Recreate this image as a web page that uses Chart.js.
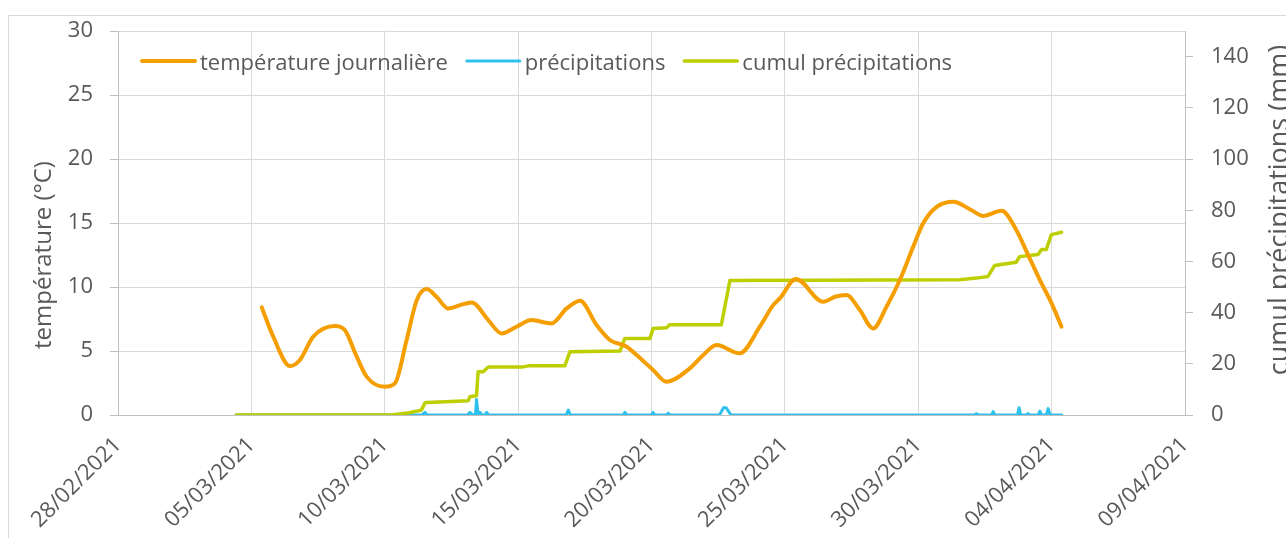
<!DOCTYPE html>
<html>
<head>
<meta charset="utf-8">
<script src="https://cdn.jsdelivr.net/npm/chart.js@4.4.1/dist/chart.umd.min.js"></script>
<style>
    html, body { margin: 0; padding: 0; background: #fff; overflow: hidden; }
    #frame { position: absolute; left: 8px; top: 15px; width: 1400px; height: 700px; border: 1px solid #d9d9d9; }
    #chart { position: absolute; left: 0; top: 0; }
</style>
</head>
<body>
<div id="frame"></div>
<canvas id="chart" width="1286" height="538"></canvas>
<script>
// =========================
// DONNÉES (x = jours depuis le 28/02/2021)
// =========================
const dateLabels = ["28/02/2021", "05/03/2021", "10/03/2021", "15/03/2021", "20/03/2021",
    "25/03/2021", "30/03/2021", "04/04/2021", "09/04/2021"];

const tempDays = [5.39, 5.82, 6.45, 6.82, 7.32, 8.13, 8.50, 8.95, 9.32, 10.00, 10.38, 10.82,
    11.20, 11.57, 11.94, 12.38, 12.82, 13.26, 13.88, 14.38, 14.94, 15.50, 16.25, 16.82,
    17.32, 17.94, 18.44, 19.07, 19.44, 20.06, 20.56, 21.44, 21.94, 22.44, 23.31, 24.06,
    24.56, 24.81, 25.41, 26.44, 26.88, 27.31, 27.81, 28.31, 28.81, 29.31, 29.81, 30.18,
    30.69, 31.31, 32.00, 32.43, 33.12, 33.68, 34.12, 34.56, 35.00, 35.37];
const tempValues = [8.41, 6.12, 3.83, 4.30, 6.12, 6.95, 6.64, 4.56, 3.00, 2.21, 2.47, 5.86,
    8.98, 9.84, 9.24, 8.33, 8.59, 8.80, 7.42, 6.38, 6.90, 7.42, 7.16, 8.33,
    8.93, 7.03, 5.86, 5.34, 4.69, 3.52, 2.60, 3.65, 4.69, 5.47, 4.82, 6.90,
    8.59, 9.11, 10.63, 8.85, 9.24, 9.38, 8.20, 6.77, 8.46, 10.55, 13.15, 14.97,
    16.27, 16.67, 16.00, 15.55, 15.96, 14.45, 12.50, 10.55, 8.72, 6.90];

const rainDays = [4.43, 11.40, 11.51, 11.60, 13.10, 13.19, 13.30, 13.40, 13.44, 13.50, 13.57,
    13.65, 13.75, 13.82, 13.90, 16.80, 16.88, 16.96, 18.95, 19.00, 19.08, 20.00, 20.06,
    20.12, 20.58, 20.63, 20.70, 22.55, 22.70, 22.80, 22.98, 32.10, 32.18, 32.26, 32.75,
    32.81, 32.87, 33.72, 33.78, 33.84, 34.06, 34.12, 34.18, 34.50, 34.56, 34.62, 34.80,
    34.87, 34.94, 35.38];
const rainValues = [0, 0, 1.0, 0, 0, 1.0, 0, 0, 6.1, 0, 1.0,
    0, 0, 1.0, 0, 0, 1.9, 0, 0, 1.0, 0, 0, 1.0,
    0, 0, 0.7, 0, 0, 2.8, 2.8, 0, 0, 0.5, 0, 0,
    1.3, 0, 0, 2.8, 0, 0, 0.6, 0, 0, 1.5, 0, 0,
    2.5, 0, 0];

const cumulDays = [4.43, 10.00, 10.31, 10.93, 11.37, 11.51, 11.60, 13.13, 13.19, 13.44, 13.50,
    13.69, 13.88, 15.19, 15.38, 16.75, 16.94, 18.82, 19.00, 19.94, 20.06, 20.56, 20.69,
    22.62, 22.94, 31.56, 32.18, 32.61, 32.86, 33.67, 33.80, 34.49, 34.62, 34.80, 34.99, 35.37];
const cumulValues = [0, 0, 0.1, 0.9, 1.9, 4.8, 4.9, 5.6, 7.1, 7.5, 16.9,
    16.9, 18.8, 18.8, 19.2, 19.2, 24.7, 25.0, 29.9, 29.9, 33.8, 34.1, 35.3,
    35.3, 52.6, 52.9, 53.5, 54.1, 58.4, 59.7, 61.9, 62.7, 64.7, 64.7, 70.5, 71.4];

const leftTitle = "température (°C)";
const rightTitle = "cumul précipitations (mm)";

// =========================
// STYLE
// =========================
const textColor = "#595959";
const gridColor = "#d9d9d9";
const axisColor = "#bfbfbf";
const fontFamily = "'Open Sans', sans-serif";
const fontSize = 22;

const toPoints = (xs, ys) => xs.map((x, i) => ({ x, y: ys[i] }));

// légende dans la zone du graphique + titres des axes
const legendOrder = [0, 2, 1];

function drawVerticalText(ctx, text, x, y, size) {
    ctx.save();
    ctx.font = size + "px " + fontFamily;
    ctx.translate(x, y);
    ctx.rotate(-Math.PI / 2);
    ctx.textAlign = "center";
    ctx.textBaseline = "alphabetic";
    ctx.fillText(text, 0, 0);
    ctx.restore();
}

const overlayPlugin = {
    id: "overlay",
    afterDraw(chart) {
        const ctx = chart.ctx;
        ctx.save();
        ctx.font = fontSize + "px " + fontFamily;
        ctx.textBaseline = "alphabetic";
        ctx.lineCap = "round";
        ctx.fillStyle = textColor;

        let x = 142;
        const y = 61;
        legendOrder.forEach(i => {
            const ds = chart.data.datasets[i];
            ctx.strokeStyle = ds.borderColor;
            ctx.lineWidth = ds.borderWidth;
            ctx.beginPath();
            ctx.moveTo(x, y);
            ctx.lineTo(x + 53, y);
            ctx.stroke();

            ctx.fillText(ds.label, x + 58, y + 9);
            x += 58 + ctx.measureText(ds.label).width + 19;
        });

        drawVerticalText(ctx, leftTitle, 51, 255, 24);
        drawVerticalText(ctx, rightTitle, 1288, 210, 27);
        ctx.restore();
    }
};

new Chart(document.getElementById("chart"), {
    type: "line",
    data: {
        datasets: [
            {
                label: "température journalière",
                data: toPoints(tempDays, tempValues),
                borderColor: "#f59e00",
                borderWidth: 4,
                cubicInterpolationMode: "monotone",
                yAxisID: "y"
            },
            {
                label: "cumul précipitations",
                data: toPoints(cumulDays, cumulValues),
                borderColor: "#bdcf00",
                borderWidth: 3.5,
                tension: 0,
                yAxisID: "y1"
            },
            {
                label: "précipitations",
                data: toPoints(rainDays, rainValues),
                borderColor: "#2ec0ee",
                borderWidth: 3,
                tension: 0,
                yAxisID: "y1"
            }
        ]
    },
    options: {
        responsive: false,
        animation: false,
        layout: { padding: { top: 31, left: 0, right: 0, bottom: 0 } },
        elements: {
            point: { radius: 0 },
            line: { borderCapStyle: "round", borderJoinStyle: "round" }
        },
        plugins: {
            legend: { display: false },
            tooltip: { enabled: false }
        },
        scales: {
            x: {
                type: "linear",
                min: 0,
                max: 40,
                ticks: {
                    stepSize: 5,
                    autoSkip: false,
                    minRotation: 45,
                    maxRotation: 45,
                    padding: 17,
                    color: textColor,
                    font: { family: fontFamily, size: fontSize },
                    callback: v => dateLabels[Math.round(v / 5)]
                },
                grid: { color: gridColor, drawTicks: false },
                border: { color: axisColor },
                afterFit: s => { s.height = 123; }
            },
            y: {
                position: "left",
                min: 0,
                max: 30,
                ticks: {
                    stepSize: 5,
                    padding: 17,
                    color: textColor,
                    font: { family: fontFamily, size: fontSize }
                },
                grid: { color: gridColor, tickColor: axisColor, tickLength: 8 },
                border: { color: axisColor },
                afterFit: s => { s.width = 118; }
            },
            y1: {
                position: "right",
                min: 0,
                max: 150,
                ticks: {
                    stepSize: 20,
                    padding: 18,
                    color: textColor,
                    font: { family: fontFamily, size: fontSize }
                },
                grid: { drawOnChartArea: false, tickColor: axisColor, tickLength: 8 },
                border: { color: axisColor },
                afterBuildTicks: s => { s.ticks = s.ticks.filter(t => t.value <= 140); },
                afterFit: s => { s.width = 101; }
            }
        }
    },
    plugins: [overlayPlugin]
});
</script>
</body>
</html>
